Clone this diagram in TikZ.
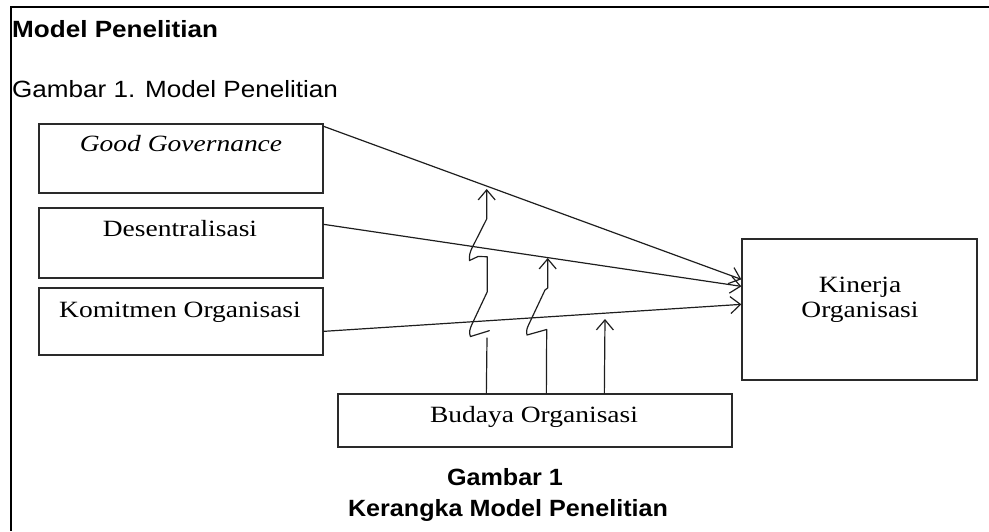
\documentclass[tikz,border=0pt]{standalone}
\usepackage{fontspec}
\setmainfont[FakeStretch=1.18]{Liberation Serif}
\newfontfamily\headfont[FakeStretch=1.11]{Liberation Sans}
\newfontfamily\capfont[FakeStretch=1.07]{Liberation Sans}
\usetikzlibrary{arrows.meta,calc}
\definecolor{boxcol}{HTML}{2A2A2A}
\definecolor{linecol}{HTML}{1E1E1E}
\begin{document}
\begin{tikzpicture}[x=1pt,y=-1pt,
  box/.style={draw=boxcol, line width=1.3pt, inner sep=0pt, rectangle},
  lbl/.style={anchor=base, inner sep=0pt, font=\fontsize{23.3}{27}\selectfont},
  head/.style={anchor=base west, inner sep=0pt, font=\headfont\fontsize{23.5}{28}\selectfont},
  capt/.style={anchor=base, inner sep=0pt, font=\capfont\fontsize{23.5}{28}\selectfont\bfseries},
  tipA/.style={-{Straight Barb[length=10pt,width=17pt]}},
  link/.style={draw=linecol, line width=1.2pt, line join=round, line cap=round},
  frame/.style={draw=black, line width=1.8pt}
]
\useasboundingbox (0,0) rectangle (989,531);
% outer frame
\coordinate (ftr) at (989,7);
\coordinate (ftl) at (11,7);
\coordinate (fbl) at (11,531);
\draw[frame] (ftr) -- (ftl) -- (fbl);

% headings
\node[head, font=\headfont\fontsize{23.5}{28}\selectfont\bfseries] (t1) at (12,37) {Model Penelitian};
\node[head] (t2) at (12,97) {Gambar 1. Model Penelitian};

% boxes
\node[box, minimum width=284pt, minimum height=69pt] (gg)  at (181,158.5) {};
\node[box, minimum width=284pt, minimum height=70pt] (des) at (181,243) {};
\node[box, minimum width=284pt, minimum height=67pt] (kom) at (181,321.5) {};
\node[box, minimum width=235pt, minimum height=141pt] (kin) at (859.5,309.5) {};
\node[box, minimum width=394pt, minimum height=53pt] (bud) at (535,420.5) {};

% box texts
\node[lbl] (ggt)  at (181,151) {\itshape Good Governance};
\node[lbl] (dest) at (180,236) {Desentralisasi};
\node[lbl] (komt) at (180,317) {Komitmen Organisasi};
\node[lbl] (kint1) at (860,292) {Kinerja};
\node[lbl] (kint2) at (860,317) {Organisasi};
\node[lbl] (budt) at (534,422) {Budaya Organisasi};

% captions
\node[capt] (c1) at (505,485) {Gambar 1};
\node[capt] (c2) at (508,516) {Kerangka Model Penelitian};

% main arrows
\coordinate (g0) at ($(gg.north east)+(0,3)$);
\coordinate (d0) at ($(des.north east)+(0,17)$);
\coordinate (k0) at ($(kom.north east)+(0,44)$);
\coordinate (g1) at ($(kin.north west)+(0,41)$);
\coordinate (d1) at ($(kin.north west)+(0,48)$);
\coordinate (k1) at ($(kin.north west)+(0,66)$);
\draw[link, tipA] (g0) -- (g1);
\draw[link, tipA] (d0) -- (d1);
\draw[link, tipA] (k0) -- (k1);

% moderating arrow A
\coordinate (a0) at ($(bud.north west)+(149,0)$);
\coordinate (a1) at (487,338);
\draw[link] (a0) -- (a1);
\draw[link, tipA] (489.3,330.7) -- (470.5,336.5) .. controls (468.5,333) and (470,328) .. (472.7,322.7)
  -- (487.3,291.7) -- (487.3,256.7) -- (478,256.5) -- (469.5,260.5)
  .. controls (469,256) and (470,252) .. (472,248) -- (486.7,219) -- (486.7,189);

% moderating arrow B
\coordinate (b0) at ($(bud.north west)+(209,0)$);
\draw[link, tipA] (b0) -- (546.7,329.5) -- (527,335) .. controls (526,331) and (527,328) .. (529,324)
  -- (545,290) -- (547.7,288) -- (547.7,258);

% moderating arrow C
\coordinate (c0) at ($(bud.north west)+(267,0)$);
\coordinate (cc) at (605,319);
\draw[link, tipA] (c0) -- (cc);
\end{tikzpicture}
\end{document}
